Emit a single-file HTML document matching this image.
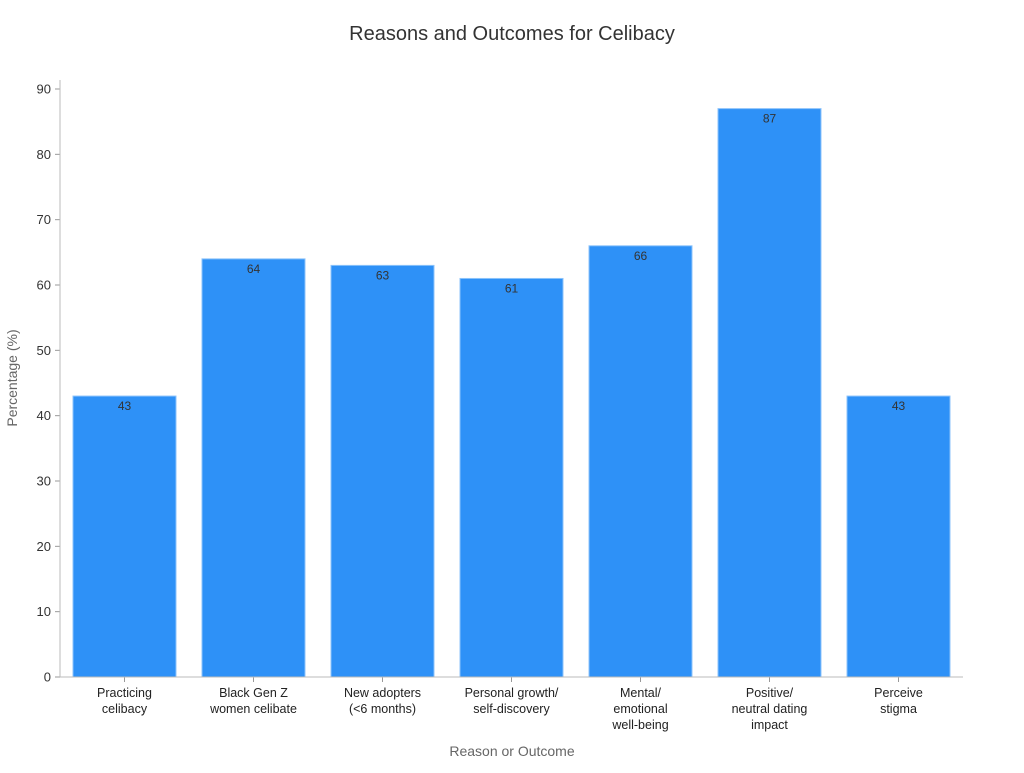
<!DOCTYPE html>
<html><head><meta charset="utf-8"><style>
body{margin:0;background:#fff;font-family:"Liberation Sans","DejaVu Sans",sans-serif;}
</style></head><body>
<svg id="chart" width="1024" height="768" xmlns="http://www.w3.org/2000/svg" font-family="Liberation Sans, DejaVu Sans, sans-serif">
<text x="512" y="40" text-anchor="middle" font-size="20" fill="#333">Reasons and Outcomes for Celibacy</text>
<text transform="translate(17,378) rotate(-90)" text-anchor="middle" font-size="14" fill="#666">Percentage (%)</text>
<text x="512" y="756" text-anchor="middle" font-size="14" fill="#666">Reason or Outcome</text>
<g id="plot"></g>
</svg>
<script>
const categories=[["Practicing","celibacy"],["Black Gen Z","women celibate"],["New adopters","(<6 months)"],["Personal growth/","self-discovery"],["Mental/","emotional","well-being"],["Positive/","neutral dating","impact"],["Perceive","stigma"]];
const values=[43,64,63,61,66,87,43];
const yTicks=[0,10,20,30,40,50,60,70,80,90];
const NS="http://www.w3.org/2000/svg";
const g=document.getElementById('plot');
const x0=60,x1=963,yBase=677,yTop=89;
const y=v=>yBase-(yBase-yTop)*v/90;
const band=(x1-x0)/categories.length;
function mk(t,a,txt){const e=document.createElementNS(NS,t);for(const k in a)e.setAttribute(k,a[k]);if(txt!==undefined)e.textContent=txt;g.appendChild(e);return e;}
yTicks.forEach(t=>{
 const l=mk('line',{x1:55,x2:60,y1:y(t),y2:y(t),stroke:'#999'});
 
 
 const tx=mk('text',{x:51,y:y(t)+4.5,'text-anchor':'end','font-size':13,fill:'#333'},t);
 
 
});
values.forEach((v,i)=>{
 const bx=x0+band*i+13,bw=band-26;
 const r=mk('rect',{x:bx,y:y(v),width:bw,height:yBase-y(v),fill:'#2e91f7',stroke:'#8cc3fb','stroke-width':1});
 
 
 const vt=mk('text',{x:bx+bw/2,y:y(v)+14,'text-anchor':'middle','font-size':12,fill:'#333'},v);
 
 
 const cx=x0+band*(i+0.5);
 const tk=mk('line',{x1:cx,x2:cx,y1:yBase,y2:yBase+5,stroke:'#999'});
 
 
 categories[i].forEach((s,j)=>{
  const ct=mk('text',{x:cx,y:697+j*16,'text-anchor':'middle','font-size':12.5,fill:'#222'},s);
  
  
 });
});
const ya=mk('line',{x1:x0,x2:x0,y1:80,y2:yBase,stroke:'#bbb'});


const xa=mk('line',{x1:x0,x2:x1,y1:yBase,y2:yBase,stroke:'#bbb'});


</script>
</body></html>
